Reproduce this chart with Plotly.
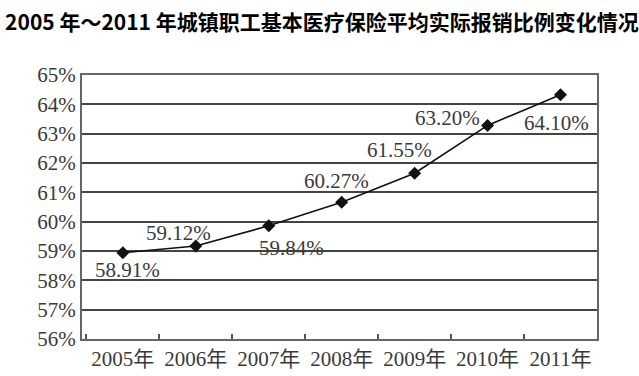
import plotly.graph_objects as go

years = ["2005年", "2006年", "2007年", "2008年", "2009年", "2010年", "2011年"]
# marker positions as drawn in the reference (percent)
values = [58.94, 59.17, 59.86, 60.66, 61.65, 63.28, 64.33]
# printed data labels
label_texts = ["58.91%", "59.12%", "59.84%", "60.27%", "61.55%", "63.20%", "64.10%"]
y_ticks = [56, 57, 58, 59, 60, 61, 62, 63, 64, 65]

# label offsets in pixels (style)
label_dx = [5, -17, 23, -5, -15, -40, -4]
label_dy = [-17, 13, -22, 21, 23, 7, -28]

serif = "Liberation Serif, Times New Roman, Noto Sans CJK SC, serif"

fig = go.Figure()
fig.add_trace(go.Scatter(
    x=years, y=values, mode="lines+markers",
    line=dict(color="#111111", width=1.6),
    marker=dict(symbol="diamond", size=10, color="#111111"),
    hoverinfo="skip", showlegend=False,
))

for yr, v, t, dx, dy in zip(years, values, label_texts, label_dx, label_dy):
    fig.add_annotation(x=yr, y=v, text=t, showarrow=False,
                       xshift=dx, yshift=dy,
                       font=dict(family=serif, size=21, color="#3a3a3a"))

fig.update_layout(
    width=639, height=376,
    margin=dict(l=82, r=42, t=75, b=37),
    paper_bgcolor="white", plot_bgcolor="white",
    title=dict(text="<b>2005 年～2011 年城镇职工基本医疗保险平均实际报销比例变化情况</b>",
               x=0.008, xanchor="left", y=0.94, yanchor="middle",
               font=dict(family="Noto Sans CJK SC", size=21, color="#000000")),
    xaxis=dict(
        type="category", range=[-0.56, 6.5], automargin=False,
        showline=True, linecolor="#666666", linewidth=2, mirror=True,
        showgrid=False, tickson="boundaries", ticks="inside", ticklen=5,
        tickcolor="#555555", tickwidth=1.5,
        tickfont=dict(family=serif, size=21, color="#3a3a3a"),
    ),
    yaxis=dict(
        range=[56, 65], tickvals=y_ticks, automargin=False,
        ticktext=[f"{v}%" for v in y_ticks],
        showline=True, linecolor="#666666", linewidth=2, mirror=True,
        showgrid=True, gridcolor="#444444", gridwidth=2,
        ticks="", ticklen=0, zeroline=False,
        tickfont=dict(family=serif, size=21, color="#3a3a3a"),
    ),
)

fig.write_html("out.html",
               config={"displayModeBar": False},
               post_script="document.body.style.margin='0';document.body.style.padding='0';")
